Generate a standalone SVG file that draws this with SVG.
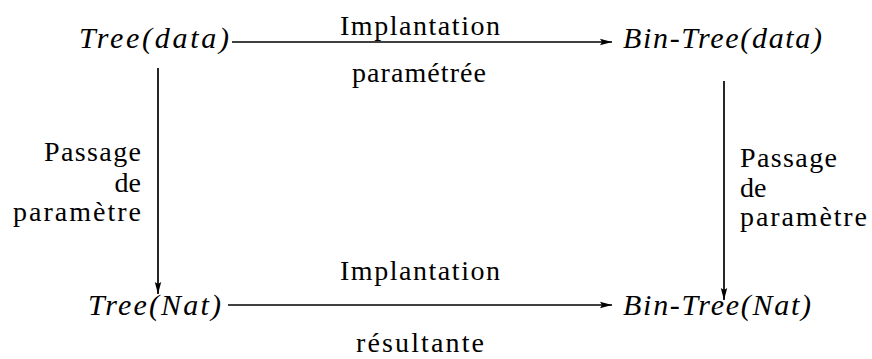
<svg xmlns="http://www.w3.org/2000/svg" width="872" height="359" viewBox="0 0 872 359">
  <style>
    text { font-family: "Liberation Serif", "Times New Roman", Times, "DejaVu Serif", serif; fill: #000; }
    .math { font-style: italic; font-size: 30px; }
    .rm { font-size: 28px; }
    .conn { stroke: #000; stroke-width: 1.7; fill: none; marker-end: url(#head); }
  </style>
  <defs>
    <marker id="head" viewBox="0 0 12 8" refX="12" refY="4" markerWidth="12" markerHeight="8" markerUnits="userSpaceOnUse" orient="auto">
      <path d="M0,0.8 L12,4 L0,7.2 L2,4 Z" fill="#000"/>
    </marker>
  </defs>
  <rect width="872" height="359" fill="#fff"/>

  <!-- objects of the square -->
  <g id="tree-data">
    <text class="math" x="79" y="48" textLength="150" lengthAdjust="spacing">Tree(data)</text>
  </g>
  <g id="bin-tree-data">
    <text class="math" x="623" y="48" textLength="199" lengthAdjust="spacing">Bin-Tree(data)</text>
  </g>
  <g id="tree-nat">
    <text class="math" x="88" y="315" textLength="133" lengthAdjust="spacing">Tree(Nat)</text>
  </g>
  <g id="bin-tree-nat">
    <text class="math" x="623" y="315" textLength="188" lengthAdjust="spacing">Bin-Tree(Nat)</text>
  </g>

  <!-- morphisms -->
  <g id="connectors">
    <line class="conn" x1="232" y1="42" x2="612" y2="42"/>
    <line class="conn" x1="228" y1="305" x2="612" y2="305"/>
    <line class="conn" x1="158" y1="68" x2="158" y2="294"/>
    <line class="conn" x1="724" y1="81" x2="724" y2="300"/>
  </g>

  <!-- arrow labels -->
  <g id="labels">
    <text class="rm" x="420" y="35" text-anchor="middle" textLength="160" lengthAdjust="spacing">Implantation</text>
    <text class="rm" x="419" y="82" text-anchor="middle" textLength="134" lengthAdjust="spacing">paramétrée</text>
    <text class="rm" x="420" y="280" text-anchor="middle" textLength="160" lengthAdjust="spacing">Implantation</text>
    <text class="rm" x="420" y="352" text-anchor="middle" textLength="128" lengthAdjust="spacing">résultante</text>
    <text class="rm" x="141" y="161" text-anchor="end" textLength="97" lengthAdjust="spacing">Passage</text>
    <text class="rm" x="141" y="192" text-anchor="end">de</text>
    <text class="rm" x="141" y="221" text-anchor="end" textLength="128" lengthAdjust="spacing">paramètre</text>
    <text class="rm" x="740" y="167" textLength="97" lengthAdjust="spacing">Passage</text>
    <text class="rm" x="740" y="197">de</text>
    <text class="rm" x="740" y="226" textLength="127" lengthAdjust="spacing">paramètre</text>
  </g>
</svg>
